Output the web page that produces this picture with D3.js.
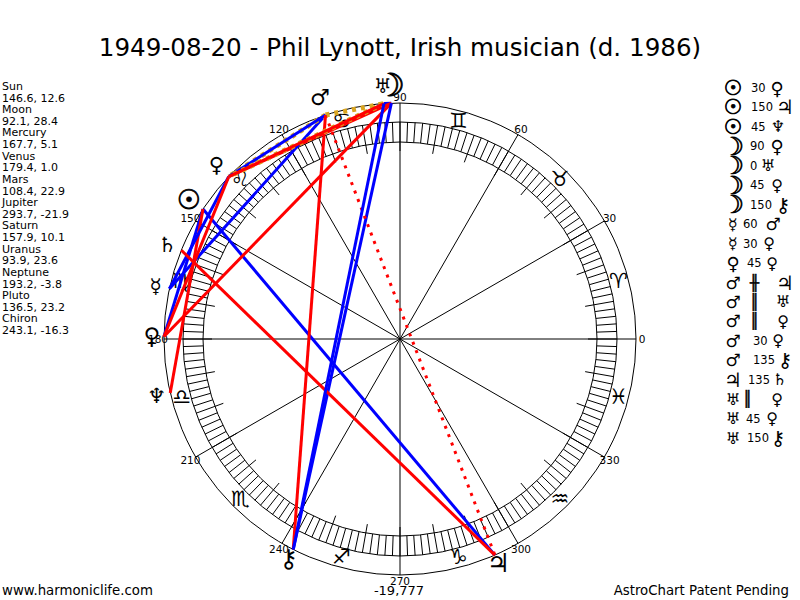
<!DOCTYPE html>
<html>
<head>
<title>AstroChart</title>
<script src="https://d3js.org/d3.v7.min.js"></script>
<style>
  body { margin: 0; background: #fff; }
  text { font-family: "DejaVu Sans", sans-serif; fill: #000; }
</style>
</head>
<body>
<script>
// planet data
const planetNames = ["Sun", "Moon", "Mercury", "Venus", "Mars", "Jupiter", "Saturn", "Uranus", "Neptune", "Pluto", "Chiron"];
const planetLon = [146.6, 92.1, 167.7, 179.4, 108.4, 293.7, 157.9, 93.9, 193.2, 136.5, 243.1];
const planetLat = [12.6, 28.4, 5.1, 1.0, 22.9, -21.9, 10.1, 23.6, -3.8, 23.2, -16.3];
const planetGlyphs = ["\u2609", "\u263D", "\u263F", "\u2640", "\u2642", "\u2643", "\u2644", "\u2645", "\u2646", "\u2640", "\u26B7"];
const signGlyphs = ["\u2648", "\u2649", "\u264A", "\u264B", "\u264C", "\u264D", "\u264E", "\u264F", "\u2650", "\u2651", "\u2652", "\u2653"];

// aspects, in list order
const aspectFrom = ["Sun", "Sun", "Sun", "Moon", "Moon", "Moon", "Moon", "Mercury", "Mercury", "Venus", "Mars", "Mars", "Mars", "Mars", "Mars", "Jupiter", "Uranus", "Uranus", "Uranus"];
const aspectTo = ["Venus", "Jupiter", "Neptune", "Venus", "Uranus", "Pluto", "Chiron", "Mars", "Pluto", "Pluto", "Jupiter", "Uranus", "Pluto", "Pluto", "Chiron", "Saturn", "Pluto", "Pluto", "Chiron"];
const aspectKind = ["30", "150", "45", "90", "0", "45", "150", "60", "30", "45", "#", "||", "||", "30", "135", "135", "||", "45", "150"];

const degreeLabels = d3.range(0, 360, 30);
const bottomNote = "-19,777";

const width = 800, height = 600;
const cx = 400, cy = 339;
const rOuter = 236, rBandOut = 217, rBandIn = 197, rTick = 188, rSign = 226, rDegree = 242;
// how far out each planet glyph sits, and how big
const glyphRadius = [253, 254, 250, 248, 254, 245, 251, 254, 250, 253, 246];
const glyphSize = [27, 32, 20, 23, 22, 26, 21, 20, 21, 21, 25];
// right list: x of the middle text and of the second glyph, row by row
const rowTextX = [751, 751, 751, 750, 750, 750, 750, 743, 743, 747, 750, 750, 750, 753, 753, 748, 743, 746, 747];
const rowGlyphX = [777, 785, 778, 777, 768, 777, 783, 773, 769, 772, 785, 783, 783, 778, 785, 780, 777, 772, 778];

const angle = d3.scaleLinear().domain([0, 360]).range([0, 2 * Math.PI]);
const px = (deg, r) => cx + r * Math.cos(angle(deg));
const py = (deg, r) => cy - r * Math.sin(angle(deg));

const svg = d3.select("body").append("svg")
    .attr("width", width)
    .attr("height", height)
    .style("display", "block");

svg.append("text")
    .attr("x", 400).attr("y", 56)
    .attr("text-anchor", "middle")
    .style("font-size", "24.6px")
    .text("1949-08-20 - Phil Lynott, Irish musician (d. 1986)");

// left list
const leftRows = planetNames.flatMap((n, i) => [n, planetLon[i].toFixed(1) + ", " + planetLat[i].toFixed(1)]);
svg.selectAll(".leftrow").data(leftRows).enter().append("text")
    .attr("class", "leftrow")
    .attr("x", 2)
    .attr("y", (d, i) => 90 + i * 11.62)
    .style("font-size", "11px")
    .text(d => d);

// wheel
const wheel = svg.append("g");
[rOuter, rBandOut, rBandIn].forEach(r => {
    wheel.append("circle")
        .attr("cx", cx).attr("cy", cy).attr("r", r)
        .attr("fill", "none").attr("stroke", "#000");
});

wheel.selectAll(".band").data(d3.range(0, 360, 2)).enter().append("line")
    .attr("class", "band")
    .attr("x1", d => px(d, rBandIn)).attr("y1", d => py(d, rBandIn))
    .attr("x2", d => px(d, rBandOut)).attr("y2", d => py(d, rBandOut))
    .attr("stroke", "#000");

wheel.selectAll(".tick10").data(d3.range(0, 360, 10)).enter().append("line")
    .attr("class", "tick10")
    .attr("x1", d => px(d, rTick)).attr("y1", d => py(d, rTick))
    .attr("x2", d => px(d, rBandIn)).attr("y2", d => py(d, rBandIn))
    .attr("stroke", "#000");

wheel.selectAll(".spoke").data(degreeLabels).enter().append("line")
    .attr("class", "spoke")
    .attr("x1", cx).attr("y1", cy)
    .attr("x2", d => px(d, rOuter)).attr("y2", d => py(d, rOuter))
    .attr("stroke", "#000");

svg.selectAll(".deg").data(degreeLabels).enter().append("text")
    .attr("class", "deg")
    .attr("x", d => px(d, rDegree)).attr("y", d => py(d, rDegree))
    .attr("text-anchor", "middle")
    .attr("dominant-baseline", "central")
    .style("font-size", "10.5px")
    .text(d => d);

svg.append("text")
    .attr("x", 399).attr("y", 595)
    .attr("text-anchor", "middle")
    .style("font-size", "13px")
    .text(bottomNote);

svg.selectAll(".sign").data(signGlyphs).enter().append("text")
    .attr("class", "sign")
    .attr("x", (d, i) => px(15 + i * 30, rSign)).attr("y", (d, i) => py(15 + i * 30, rSign))
    .attr("text-anchor", "middle")
    .attr("dominant-baseline", "central")
    .style("font-size", "21px")
    .text(d => d + "\uFE0E");

// aspect lines
const lon = name => planetLon[planetNames.indexOf(name)];
function aspectStyle(kind) {
    if (kind === "#") return { color: "#ff0000", width: 3, dash: "3 6" };
    if (kind === "||") return { color: "#daa520", width: 5, dash: "4 5" };
    if (["45", "90", "135"].includes(kind)) return { color: "#ff0000", width: 3, dash: null };
    return { color: "#0000ff", width: 3, dash: null };
}
svg.selectAll(".aspect").data(d3.range(aspectKind.length)).enter().append("line")
    .attr("class", "aspect")
    .attr("x1", i => px(lon(aspectFrom[i]), rOuter)).attr("y1", i => py(lon(aspectFrom[i]), rOuter))
    .attr("x2", i => px(lon(aspectTo[i]), rOuter)).attr("y2", i => py(lon(aspectTo[i]), rOuter))
    .attr("stroke", i => aspectStyle(aspectKind[i]).color)
    .attr("stroke-width", i => aspectStyle(aspectKind[i]).width)
    .attr("stroke-dasharray", i => aspectStyle(aspectKind[i]).dash);

// planet glyphs round the wheel
svg.selectAll(".planet").data(planetGlyphs).enter().append("text")
    .attr("class", "planet")
    .attr("x", (d, i) => px(planetLon[i], glyphRadius[i])).attr("y", (d, i) => py(planetLon[i], glyphRadius[i]))
    .attr("text-anchor", "middle")
    .attr("dominant-baseline", "central")
    .style("font-size", (d, i) => glyphSize[i] + "px")
    .style("stroke", "#000")
    .style("stroke-width", (d, i) => (i < 2 ? 0.8 : 0))
    .text(d => d + "\uFE0E");

// right list
const glyphOf = name => planetGlyphs[planetNames.indexOf(name)] + "\uFE0E";
const listSize = name => Math.round(glyphSize[planetNames.indexOf(name)] * 0.78);
const isParallel = k => k === "#" || k === "||";
const rows = svg.selectAll(".row").data(d3.range(aspectKind.length)).enter().append("g")
    .attr("class", "row")
    .attr("transform", i => `translate(0,${88 + i * 19.45})`);
rows.append("text")
    .attr("x", 733).attr("dominant-baseline", "central").attr("text-anchor", "middle")
    .style("font-size", i => listSize(aspectFrom[i]) + "px")
    .style("stroke", "#000")
    .style("stroke-width", i => ["Sun", "Moon"].includes(aspectFrom[i]) ? 0.7 : 0)
    .text(i => glyphOf(aspectFrom[i]));
rows.append("text")
    .attr("x", i => rowTextX[i]).attr("dominant-baseline", "central")
    .style("font-size", i => isParallel(aspectKind[i]) ? "15px" : "11.5px")
    .style("stroke", i => isParallel(aspectKind[i]) ? "#000" : "none")
    .style("stroke-width", i => isParallel(aspectKind[i]) ? 0.5 : 0)
    .text(i => aspectKind[i] === "#" ? "\u256B" : aspectKind[i] === "||" ? "\u2551" : aspectKind[i]);
rows.append("text")
    .attr("x", i => rowGlyphX[i])
    .attr("dominant-baseline", "central").attr("text-anchor", "middle")
    .style("font-size", i => listSize(aspectTo[i]) + "px")
    .text(i => glyphOf(aspectTo[i]));

// footer
svg.append("text").attr("x", 2).attr("y", 595).style("font-size", "13.3px").text("www.harmoniclife.com");
svg.append("text").attr("x", 789).attr("y", 595).attr("text-anchor", "end").style("font-size", "13.3px").text("AstroChart Patent Pending");
</script>
</body>
</html>
